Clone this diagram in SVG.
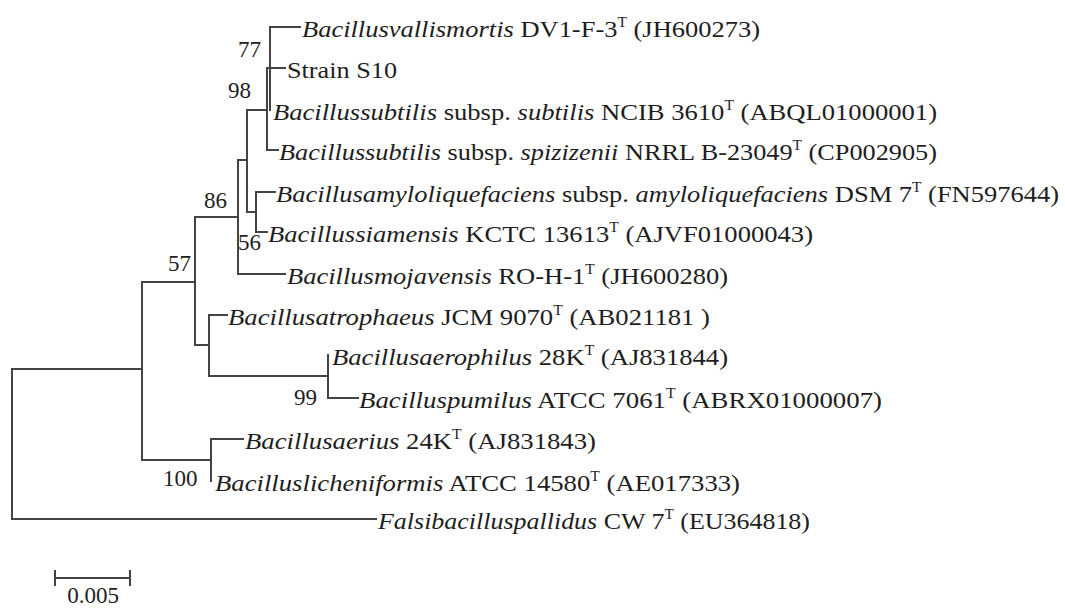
<svg xmlns="http://www.w3.org/2000/svg" width="1065" height="608" viewBox="0 0 1065 608">
<style>
.t { font-family: "Liberation Serif", "Times New Roman", serif; font-size: 24px; fill: #1e1e1e; }
.it { font-style: italic; }
.sup { font-size: 14px; }
.br { stroke: #444; stroke-width: 2; fill: none; stroke-linecap: square; }
.bs { font-family: "Liberation Serif", "Times New Roman", serif; font-size: 23px; fill: #1e1e1e; }
</style>
<rect width="1065" height="608" fill="#fff"/>
<g id="connectors" class="br">
<path d="M12,369 V519 M12,369 H142 M12,519 H376"/>
<path d="M142,282 V460 M142,282 H195 M142,460 H211"/>
<path d="M195,217 V345 M195,217 H238 M195,345 H209"/>
<path d="M238,160 V274 M238,160 H247 M238,274 H285"/>
<path d="M247,110 V212 M247,110 H267 M247,212 H256"/>
<path d="M267,68 V150 M267,68 H285 M267,150 H278"/>
<path d="M270,27 V110 M270,27 H300"/>
<path d="M256,192 V232 M256,192 H275 M256,232 H267"/>
<path d="M209,315 V376 M209,315 H227 M209,376 H328"/>
<path d="M328,355 V398 M328,398 H358"/>
<path d="M211,439 V481 M211,439 H243"/>
</g>
<g id="bootstrap">
<text class="bs" x="238" y="57">77</text>
<text class="bs" x="228" y="98">98</text>
<text class="bs" x="204" y="208">86</text>
<text class="bs" x="238" y="250">56</text>
<text class="bs" x="168" y="271">57</text>
<text class="bs" x="294" y="405">99</text>
<text class="bs" x="163" y="486">100</text>
</g>
<g id="n-vallismortis"><text class="t" x="302" y="37" textLength="458" lengthAdjust="spacingAndGlyphs"><tspan class="it">Bacillusvallismortis</tspan> DV1-F-3<tspan class="sup" dy="-10">T</tspan><tspan dy="10"> (JH600273)</tspan></text></g>
<g id="n-s10"><text class="t" x="287" y="78" textLength="110" lengthAdjust="spacingAndGlyphs">Strain S10</text></g>
<g id="n-subtilis"><text class="t" x="273" y="120" textLength="664" lengthAdjust="spacingAndGlyphs"><tspan class="it">Bacillussubtilis</tspan> subsp. <tspan class="it">subtilis</tspan> NCIB 3610<tspan class="sup" dy="-10">T</tspan><tspan dy="10"> (ABQL01000001)</tspan></text></g>
<g id="n-spizizenii"><text class="t" x="279" y="160" textLength="658" lengthAdjust="spacingAndGlyphs"><tspan class="it">Bacillussubtilis</tspan> subsp. <tspan class="it">spizizenii</tspan> NRRL B-23049<tspan class="sup" dy="-10">T</tspan><tspan dy="10"> (CP002905)</tspan></text></g>
<g id="n-amylo"><text class="t" x="276" y="202" textLength="783" lengthAdjust="spacingAndGlyphs"><tspan class="it">Bacillusamyloliquefaciens</tspan> subsp. <tspan class="it">amyloliquefaciens</tspan> DSM 7<tspan class="sup" dy="-10">T</tspan><tspan dy="10"> (FN597644)</tspan></text></g>
<g id="n-siamensis"><text class="t" x="268" y="242" textLength="545" lengthAdjust="spacingAndGlyphs"><tspan class="it">Bacillussiamensis</tspan> KCTC 13613<tspan class="sup" dy="-10">T</tspan><tspan dy="10"> (AJVF01000043)</tspan></text></g>
<g id="n-mojavensis"><text class="t" x="287" y="284" textLength="441" lengthAdjust="spacingAndGlyphs"><tspan class="it">Bacillusmojavensis</tspan> RO-H-1<tspan class="sup" dy="-10">T</tspan><tspan dy="10"> (JH600280)</tspan></text></g>
<g id="n-atrophaeus"><text class="t" x="228" y="325" textLength="482" lengthAdjust="spacingAndGlyphs"><tspan class="it">Bacillusatrophaeus</tspan> JCM 9070<tspan class="sup" dy="-10">T</tspan><tspan dy="10"> (AB021181 )</tspan></text></g>
<g id="n-aerophilus"><text class="t" x="332" y="365" textLength="396" lengthAdjust="spacingAndGlyphs"><tspan class="it">Bacillusaerophilus</tspan> 28K<tspan class="sup" dy="-10">T</tspan><tspan dy="10"> (AJ831844)</tspan></text></g>
<g id="n-pumilus"><text class="t" x="359" y="408" textLength="523" lengthAdjust="spacingAndGlyphs"><tspan class="it">Bacilluspumilus</tspan> ATCC 7061<tspan class="sup" dy="-10">T</tspan><tspan dy="10"> (ABRX01000007)</tspan></text></g>
<g id="n-aerius"><text class="t" x="245" y="449" textLength="351" lengthAdjust="spacingAndGlyphs"><tspan class="it">Bacillusaerius</tspan> 24K<tspan class="sup" dy="-10">T</tspan><tspan dy="10"> (AJ831843)</tspan></text></g>
<g id="n-licheniformis"><text class="t" x="215" y="491" textLength="525" lengthAdjust="spacingAndGlyphs"><tspan class="it">Bacilluslicheniformis</tspan> ATCC 14580<tspan class="sup" dy="-10">T</tspan><tspan dy="10"> (AE017333)</tspan></text></g>
<g id="n-falsibacillus"><text class="t" x="378" y="529" textLength="432" lengthAdjust="spacingAndGlyphs"><tspan class="it">Falsibacilluspallidus</tspan> CW 7<tspan class="sup" dy="-10">T</tspan><tspan dy="10"> (EU364818)</tspan></text></g>
<g id="scalebar">
<path class="br" d="M55,578 H130 M55,571 V585 M130,571 V585"/>
<text class="bs" x="93" y="603" text-anchor="middle">0.005</text>
</g>
</svg>
